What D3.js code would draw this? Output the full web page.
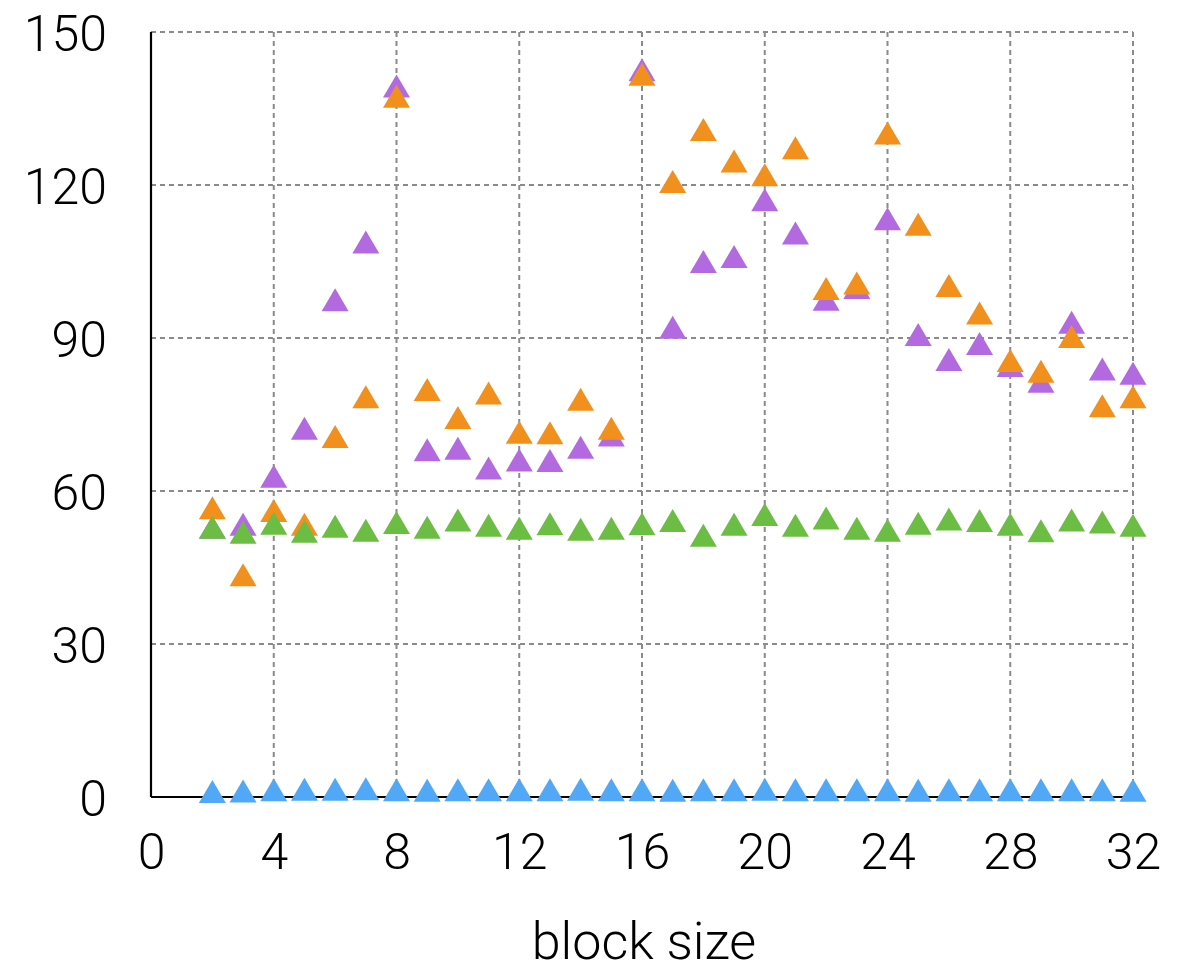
<!DOCTYPE html>
<html>
<head>
<meta charset="utf-8">
<script src="https://cdn.jsdelivr.net/npm/d3@7"></script>
<style>
  body { margin: 0; background: #fff; }
  text { font-family: "Helvetica Neue", Roboto, "Liberation Sans", sans-serif; font-weight: 300; fill: #000; }
</style>
</head>
<body>
<script>
// block sizes 2..32
var blockSize = [2,3,4,5,6,7,8,9,10,11,12,13,14,15,16,17,18,19,20,21,22,23,24,25,26,27,28,29,30,31,32];

var purpleValues = [52.9,53.5,62.9,72.3,97.5,108.8,139.4,68.1,68.4,64.5,66.1,66.0,68.6,71.0,142.6,92.1,
                    105.0,106.0,117.1,110.6,97.6,99.9,113.4,90.7,85.8,88.9,84.6,81.5,93.1,83.9,83.1];
var orangeValues = [56.7,43.6,56.2,53.5,70.7,78.5,137.4,79.9,74.4,79.2,71.5,71.4,78.0,72.3,141.7,120.7,
                    130.9,124.7,122.0,127.3,99.7,100.8,130.2,112.3,100.3,94.9,85.6,83.5,90.3,76.7,78.5];
var greenValues  = [52.9,51.9,53.7,52.1,53.1,52.3,53.8,52.9,54.3,53.3,52.7,53.6,52.5,52.7,53.6,54.2,
                    51.3,53.5,55.4,53.3,54.7,52.7,52.3,53.7,54.5,54.2,53.5,52.2,54.3,53.9,53.3];
var blueValues   = [1.1,1.2,1.4,1.5,1.5,1.6,1.4,1.3,1.4,1.4,1.4,1.4,1.5,1.4,1.4,1.3,
                    1.4,1.4,1.5,1.4,1.4,1.4,1.4,1.3,1.4,1.4,1.4,1.4,1.4,1.4,1.3];

var xTicks = [0,4,8,12,16,20,24,28,32];
var yTicks = [0,30,60,90,120,150];

// draw order: purple under orange under green under blue
var series = [
    {name: "purple", color: "#b36ae0", values: purpleValues},
    {name: "orange", color: "#f2901d", values: orangeValues},
    {name: "green",  color: "#6cbd44", values: greenValues},
    {name: "blue",   color: "#51a8f6", values: blueValues}
];

var width = 1195,
    height = 971;

var x = d3.scaleLinear().domain([0, 32]).range([151, 1133]);
var y = d3.scaleLinear().domain([0, 150]).range([797, 32]);

var svg = d3.select("body").append("svg")
    .attr("width", width)
    .attr("height", height);

// grid
var grid = svg.append("g")
    .attr("stroke", "#8a8a8a")
    .attr("stroke-width", 2)
    .attr("stroke-dasharray", "5,4");

grid.selectAll("line.v")
    .data(xTicks.filter(function(d) { return d > 0; }))
    .enter().append("line")
    .attr("class", "v")
    .attr("x1", function(d) { return x(d); })
    .attr("x2", function(d) { return x(d); })
    .attr("y1", y(150))
    .attr("y2", y(0));

grid.selectAll("line.h")
    .data(yTicks.filter(function(d) { return d > 0; }))
    .enter().append("line")
    .attr("class", "h")
    .attr("x1", x(0))
    .attr("x2", x(32))
    .attr("y1", function(d) { return y(d); })
    .attr("y2", function(d) { return y(d); });

// axes
var xAxis = svg.append("g")
    .attr("transform", "translate(0," + y(0) + ")")
    .call(d3.axisBottom(x).tickValues(xTicks).tickSize(0).tickPadding(36));

var yAxis = svg.append("g")
    .attr("transform", "translate(" + x(0) + ",0)")
    .call(d3.axisLeft(y).tickValues(yTicks).tickSize(0).tickPadding(44));

[xAxis, yAxis].forEach(function(a) {
    a.select(".domain").attr("stroke", "#000").attr("stroke-width", 2.2);
    a.selectAll("text")
        .attr("fill", "#000")
        .style("font-size", "50px")
        .style("font-weight", "300");
});
xAxis.select(".domain").attr("d", "M" + x(0) + ",0H" + x(32));
yAxis.select(".domain").attr("d", "M0," + y(0) + "V" + y(150));
xAxis.selectAll("text").attr("dy", "0.71em");
yAxis.selectAll("text").attr("dy", "0.36em");

// axis title
svg.append("text")
    .attr("x", 644)
    .attr("y", 959)
    .attr("text-anchor", "middle")
    .style("font-size", "52px")
    .text("block size");

// triangle markers, centred on the value
var tri = "M0,-11.5L13.5,11.5L-13.5,11.5Z";

series.forEach(function(s) {
    svg.append("g")
        .attr("class", "series " + s.name)
        .selectAll("path")
        .data(s.values)
        .enter().append("path")
        .attr("d", tri)
        .attr("fill", s.color)
        .attr("transform", function(d, i) {
            return "translate(" + x(blockSize[i]) + "," + y(d) + ")";
        });
});
</script>
</body>
</html>
